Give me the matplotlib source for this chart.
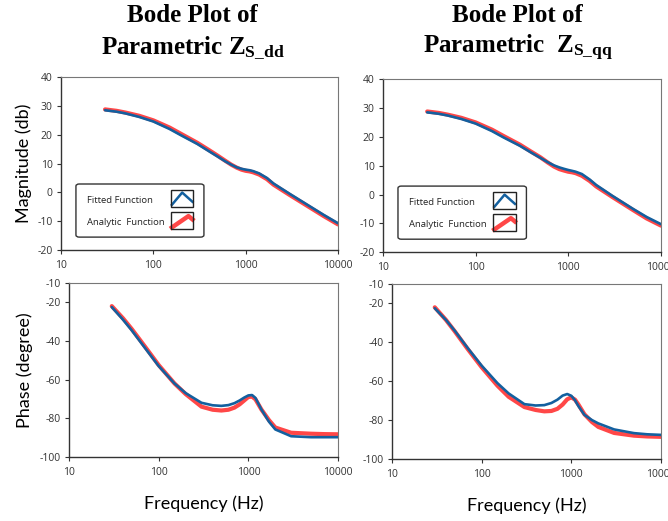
import matplotlib
matplotlib.use('Agg')
import matplotlib.pyplot as plt
from matplotlib.patches import Rectangle, FancyBboxPatch
from matplotlib.lines import Line2D

plt.rcParams['font.family'] = ['Open Sans', 'DejaVu Sans']
plt.rcParams['mathtext.fontset'] = 'custom'
plt.rcParams['mathtext.rm'] = 'Liberation Serif:bold'
plt.rcParams['mathtext.bf'] = 'Liberation Serif:bold'
plt.rcParams['mathtext.it'] = 'Liberation Serif:bold'

# frequency grid (Hz)
freq = [30, 40, 50, 70, 100, 150, 200, 300, 400, 500, 600, 700, 800, 900,
        1000, 1100, 1200, 1400, 1700, 2000, 3000, 5000, 7000, 10000]

# magnitude (dB)
mag_dd_fit = [28.5, 28.0, 27.4, 26.2, 24.6, 22.0, 19.8, 16.8, 14.3, 12.4, 10.8, 9.6, 8.7, 8.2,
              7.9, 7.7, 7.4, 6.6, 5.0, 3.1, -0.5, -4.9, -7.8, -10.7]
mag_dd_ana = [28.8, 28.3, 27.7, 26.6, 25.0, 22.5, 20.3, 17.2, 14.7, 12.7, 11.0, 9.6, 8.6, 7.9,
              7.5, 7.3, 7.0, 6.2, 4.6, 2.7, -0.9, -5.3, -8.2, -11.1]
mag_qq_fit = [28.5, 28.0, 27.4, 26.2, 24.6, 22.0, 19.8, 16.9, 14.5, 12.7, 11.2, 10.1, 9.4, 8.9,
              8.5, 8.2, 7.9, 7.1, 5.2, 3.3, -0.5, -5.0, -7.8, -10.3]
mag_qq_ana = [28.8, 28.3, 27.7, 26.6, 25.0, 22.5, 20.3, 17.3, 14.8, 12.9, 11.1, 9.7, 8.8, 8.3,
              7.9, 7.7, 7.4, 6.5, 4.7, 2.8, -0.9, -5.4, -8.3, -10.8]

# phase (degree)
ph_dd_fit = [-22.5, -29.0, -34.5, -43.5, -53.0, -62.0, -67.0, -72.0, -73.3, -73.6, -73.2, -72.2, -70.8, -69.3,
             -68.2, -68.0, -69.5, -75.5, -81.8, -85.8, -89.3, -89.8, -89.8, -89.8]
ph_dd_ana = [-22.0, -28.3, -33.8, -42.8, -52.5, -62.0, -67.5, -74.0, -75.6, -76.0, -75.6, -74.5, -72.8, -70.8,
             -69.0, -68.8, -70.2, -75.5, -81.0, -84.8, -87.5, -88.0, -88.2, -88.3]
ph_qq_fit = [-22.5, -28.5, -34.0, -43.0, -52.0, -61.0, -66.3, -71.8, -72.5, -72.3, -71.2, -69.5, -67.4, -66.6,
             -67.5, -69.8, -72.8, -77.3, -80.0, -81.7, -84.8, -86.7, -87.3, -87.6]
ph_qq_ana = [-22.0, -28.5, -34.3, -43.5, -52.8, -62.3, -68.0, -73.3, -74.8, -75.5, -75.3, -74.2, -72.0, -69.3,
             -68.3, -69.5, -72.0, -77.0, -81.0, -83.5, -86.6, -88.0, -88.4, -88.6]

xticks = [10, 100, 1000, 10000]
xticklabels = ['10', '100', '1000', '10000']
mag_ticks = [-20, -10, 0, 10, 20, 30, 40]
ph_ticks = [-100, -80, -60, -40, -20, -10]

BLUE = '#13609f'
RED = '#ff4747'


def style_axes(ax, yticks, ylim):
    ax.set_xscale('log')
    ax.set_xlim(10, 10000)
    ax.set_ylim(*ylim)
    ax.set_xticks(xticks)
    ax.set_xticklabels(xticklabels)
    ax.minorticks_off()
    ax.set_yticks(yticks)
    ax.set_yticklabels([str(t) for t in yticks])
    ax.tick_params(labelsize=7.5, labelcolor='#333333', length=3, width=0.8, color='#333333', pad=3)
    ax.tick_params(axis='x', pad=4)
    for s in ['left', 'bottom']:
        ax.spines[s].set_color('#333333')
        ax.spines[s].set_linewidth(1.0)
    for s in ['top', 'right']:
        ax.spines[s].set_color('#777777')
        ax.spines[s].set_linewidth(0.8)


def draw_legend(ax):
    # hand-made legend: rounded frame, left aligned labels, icon boxes on the right
    tr = ax.transAxes
    ax.add_patch(FancyBboxPatch((0.054, 0.075), 0.462, 0.307,
                                boxstyle='round,pad=0,rounding_size=0.012',
                                transform=tr, fc='white', ec='#333333', lw=1.0, zorder=5))
    ax.text(0.093, 0.289, 'Fitted Function', transform=tr, fontsize=6.8,
            ha='left', va='center', color='#222222', zorder=6)
    ax.text(0.093, 0.160, 'Analytic  Function', transform=tr, fontsize=6.8,
            ha='left', va='center', color='#222222', zorder=6)
    icons = [(0.250, BLUE, 1.8, [(0.04, 0.12), (0.5, 0.85), (0.96, 0.3)]),
             (0.121, RED, 3.2, [(0.04, 0.1), (0.78, 0.78), (0.96, 0.58)])]
    bx, bw, bh = 0.397, 0.081, 0.097
    for by, c, lw, pts in icons:
        ax.add_patch(Rectangle((bx, by), bw, bh, transform=tr, fill=False,
                               ec='#222222', lw=1.0, zorder=7))
        ax.add_line(Line2D([bx + p[0] * bw for p in pts], [by + p[1] * bh for p in pts],
                           transform=tr, color=c, lw=lw, zorder=6))


fig = plt.figure(figsize=(6.68, 5.21), dpi=100)

ax1 = fig.add_axes([0.0913, 0.520, 0.4147, 0.332])
ax2 = fig.add_axes([0.5733, 0.516, 0.4162, 0.332])
ax3 = fig.add_axes([0.1033, 0.123, 0.4027, 0.334])
ax4 = fig.add_axes([0.5868, 0.119, 0.4027, 0.336])

panels = [(ax1, mag_dd_fit, mag_dd_ana), (ax2, mag_qq_fit, mag_qq_ana),
          (ax3, ph_dd_fit, ph_dd_ana), (ax4, ph_qq_fit, ph_qq_ana)]
for ax, yf, ya in panels:
    ax.plot(freq, ya, color=RED, lw=3.0, solid_capstyle='round', solid_joinstyle='round')
    ax.plot(freq, yf, color=BLUE, lw=1.9, solid_capstyle='round', solid_joinstyle='round')

style_axes(ax1, mag_ticks, (-20, 40))
style_axes(ax2, mag_ticks, (-20, 40))
style_axes(ax3, ph_ticks, (-100, -10))
style_axes(ax4, ph_ticks, (-100, -10))

draw_legend(ax1)
draw_legend(ax2)

lab_font = ['Lato', 'DejaVu Sans']
ax1.set_ylabel('Magnitude (db)', fontsize=13, family=lab_font, labelpad=4)
ax3.set_ylabel('Phase (degree)', fontsize=13, family=lab_font, labelpad=5)
ax3.set_xlabel('Frequency (Hz)', fontsize=13, family=lab_font, labelpad=13)
ax4.set_xlabel('Frequency (Hz)', fontsize=13, family=lab_font, labelpad=13)

title_font = ['Liberation Serif', 'DejaVu Serif']
fig.text(0.288, 0.97, 'Bode Plot of', ha='center', va='center', fontsize=18,
         fontweight='bold', family=title_font)
fig.text(0.288, 0.908, r'Parametric Z$_{S\_dd}$', ha='center', va='center', fontsize=18,
         fontweight='bold', family=title_font)
fig.text(0.775, 0.97, 'Bode Plot of', ha='center', va='center', fontsize=18,
         fontweight='bold', family=title_font)
fig.text(0.775, 0.908, r'Parametric  Z$_{S\_qq}$', ha='center', va='center', fontsize=18,
         fontweight='bold', family=title_font)

fig.savefig('out.png', dpi=100)
